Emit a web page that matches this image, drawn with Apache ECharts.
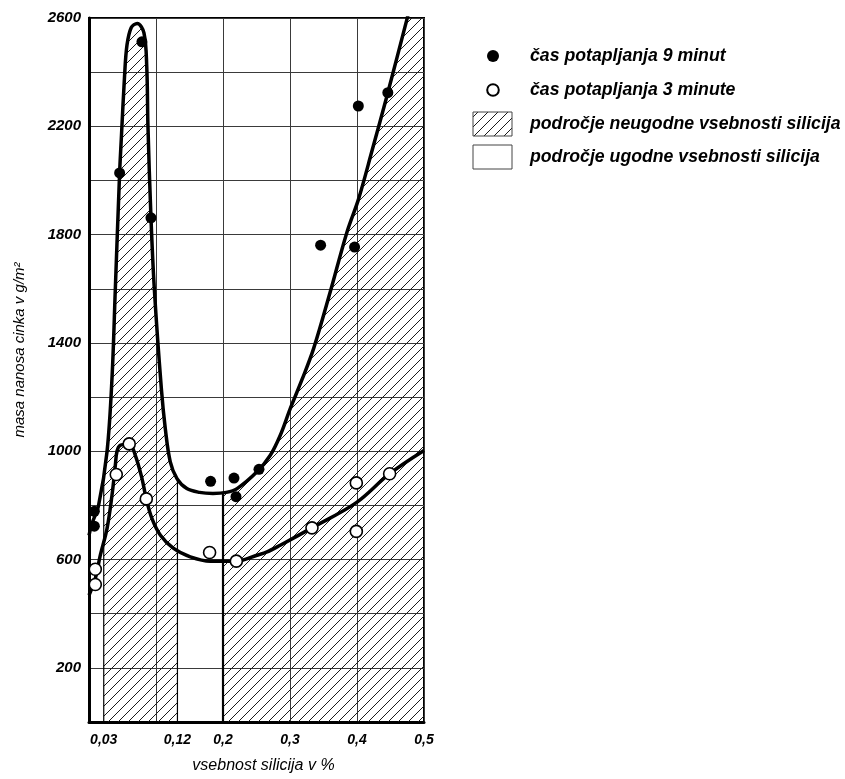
<!DOCTYPE html>
<html>
<head>
<meta charset="utf-8">
<script src="https://cdn.jsdelivr.net/npm/echarts@6/dist/echarts.min.js"></script>
<style>
  body { margin: 0; background: #fff; }
  #chart { width: 845px; height: 779px; }
</style>
</head>
<body>
<div id="chart"></div>
<script>
const FONT = "'Liberation Sans', Arial, sans-serif";

// tick labels (the 0,03 and 0,12 marks sit where the original drew them)
const xLabelPos = [0.022, 0.132, 0.2, 0.3, 0.4, 0.5];
const xLabelText = ["0,03", "0,12", "0,2", "0,3", "0,4", "0,5"];
const yLabels = [200, 600, 1000, 1400, 1800, 2200, 2600];

// measured points
const dots9 = [
  [0.008, 778], [0.008, 723], [0.0457, 2028], [0.079, 2512], [0.0925, 1862],
  [0.1815, 889], [0.2164, 901], [0.2194, 832], [0.2537, 933], [0.3457, 1761],
  [0.3964, 1754], [0.402, 2275], [0.446, 2324],
];
const dots3 = [
  [0.0094, 564], [0.0094, 508], [0.0407, 914], [0.06, 1027], [0.0855, 824],
  [0.18, 626], [0.2199, 594], [0.3328, 717], [0.399, 883], [0.399, 704],
  [0.4487, 917],
];

// fitted curves
const curve9 = [
  [0, 689], [0.0045, 733], [0.0143, 800], [0.0269, 998], [0.0343, 1268],
  [0.0393, 1600], [0.0457, 2028], [0.0482, 2153], [0.0531, 2387], [0.0567, 2500],
  [0.0631, 2565], [0.072, 2580], [0.082, 2545], [0.0862, 2420], [0.088, 2200],
  [0.0925, 1862], [0.0975, 1600], [0.108, 1231], [0.1139, 1083], [0.1213, 961],
  [0.1313, 899], [0.146, 862], [0.165, 848], [0.185, 844], [0.205, 848],
  [0.221, 862], [0.2507, 924], [0.2706, 985], [0.2855, 1059], [0.3005, 1158],
  [0.318, 1265], [0.3352, 1379], [0.36, 1588], [0.385, 1809], [0.4024, 1932],
  [0.423, 2115], [0.4448, 2313], [0.4746, 2596], [0.476, 2610],
];
const curve3 = [
  [0, 468], [0.0094, 530], [0.0169, 616], [0.0269, 714], [0.0343, 837],
  [0.0393, 948], [0.0418, 1000], [0.0467, 1022], [0.0601, 1027], [0.0691, 985],
  [0.0791, 899], [0.0855, 824], [0.094, 751], [0.1066, 690], [0.1263, 641],
  [0.1512, 610], [0.181, 594], [0.2009, 594], [0.2199, 594], [0.2507, 616],
  [0.2657, 628], [0.2855, 653], [0.3328, 717], [0.399, 810], [0.4487, 917],
  [0.5, 1003],
];

// unfavourable silicon content ranges (hatched under the 9 min curve)
const badRanges = [[0.022, 0.132], [0.2, 0.5]];

const legendNames = [
  "čas potapljanja 9 minut",
  "čas potapljanja 3 minute",
  "področje neugodne vsebnosti silicija",
  "področje ugodne vsebnosti silicija",
];

const Y_MAX = 2600;

function makeHatch() {
  const c = document.createElement("canvas");
  c.width = 10;
  c.height = 10;
  const ctx = c.getContext("2d");
  ctx.strokeStyle = "#1a1a1a";
  ctx.lineWidth = 1;
  ctx.beginPath();
  ctx.moveTo(0, 10);
  ctx.lineTo(10, 0);
  ctx.moveTo(-1, 1);
  ctx.lineTo(1, -1);
  ctx.moveTo(9, 11);
  ctx.lineTo(11, 9);
  ctx.stroke();
  return { image: c, repeat: "repeat" };
}
const hatch = makeHatch();

function curveAt(curve, x) {
  if (x <= curve[0][0]) return curve[0][1];
  for (let i = 1; i < curve.length; i++) {
    if (x <= curve[i][0]) {
      const [x0, y0] = curve[i - 1];
      const [x1, y1] = curve[i];
      return y0 + ((y1 - y0) * (x - x0)) / (x1 - x0);
    }
  }
  return curve[curve.length - 1][1];
}

function renderBadRange(params, api) {
  const x0 = api.value(0);
  const x1 = api.value(1);
  const pts = [[x0, 0], [x0, curveAt(curve9, x0)]];
  curve9.forEach((p) => {
    if (p[0] > x0 && p[0] < x1) pts.push(p);
  });
  pts.push([x1, curveAt(curve9, x1)], [x1, 0]);
  const points = pts.map((p) => api.coord([p[0], Math.min(p[1], Y_MAX)]));
  const base = api.coord([x0, 0]);
  const top = api.coord([x0, curveAt(curve9, x0)]);
  const children = [
    { type: "polygon", shape: { points }, style: { fill: hatch, stroke: null } },
    {
      type: "line",
      shape: { x1: base[0], y1: base[1], x2: top[0], y2: top[1] },
      style: { stroke: "#000", lineWidth: params.dataIndex === 1 ? 2.2 : 1.2 },
    },
  ];
  if (x1 < 0.5) {
    const b2 = api.coord([x1, 0]);
    const t2 = api.coord([x1, curveAt(curve9, x1)]);
    children.push({
      type: "line",
      shape: { x1: b2[0], y1: b2[1], x2: t2[0], y2: t2[1] },
      style: { stroke: "#000", lineWidth: 1.2 },
    });
  }
  return { type: "group", children };
}

const labelStyle = {
  fontFamily: FONT,
  fontStyle: "italic",
  fontWeight: "bold",
  color: "#000",
};

const legendX = 473;
const legendRows = [56, 90, 124, 157];

const chart = echarts.init(document.getElementById("chart"));
chart.setOption({
  animation: false,
  backgroundColor: "#fff",
  grid: {
    left: 89,
    top: 18,
    width: 335,
    height: 706,
    show: true,
    borderColor: "#000",
    borderWidth: 2,
  },
  xAxis: {
    type: "value",
    min: 0,
    max: 0.5,
    interval: 0.1,
    axisLine: { lineStyle: { color: "#000", width: 3 } },
    axisTick: { show: false },
    splitLine: { show: true, lineStyle: { color: "#3a3a3a", width: 1 } },
    axisLabel: {
      ...labelStyle,
      fontSize: 14,
      customValues: xLabelPos,
      margin: 11,
      formatter: (v) => {
        const i = xLabelPos.findIndex((p) => Math.abs(p - v) < 1e-6);
        return i >= 0 ? xLabelText[i] : "";
      },
    },
    name: "vsebnost silicija v %",
    nameLocation: "middle",
    nameGap: 36,
    nameTextStyle: {
      fontFamily: FONT,
      fontSize: 16,
      fontStyle: "italic",
      color: "#000",
      padding: [0, 0, 0, 14],
    },
  },
  yAxis: {
    type: "value",
    min: 0,
    max: Y_MAX,
    interval: 200,
    axisLine: { show: true, lineStyle: { color: "#000", width: 3 } },
    axisTick: { show: false },
    splitLine: { show: true, lineStyle: { color: "#3a3a3a", width: 1 } },
    axisLabel: {
      ...labelStyle,
      fontSize: 15,
      margin: 8,
      showMaxLabel: true,
      formatter: (v) => (yLabels.includes(v) ? String(v) : ""),
    },
    name: "masa nanosa cinka v g/m²",
    nameLocation: "middle",
    nameGap: 62,
    nameTextStyle: {
      fontFamily: FONT,
      fontSize: 15,
      fontStyle: "italic",
      color: "#000",
      padding: [0, 0, 0, 40],
    },
  },
  series: [
    {
      type: "custom",
      name: legendNames[2],
      renderItem: renderBadRange,
      data: badRanges,
      z: 1,
      silent: true,
    },
    {
      type: "line",
      name: "krivulja 9 minut",
      data: curve9,
      smooth: 0.35,
      showSymbol: false,
      lineStyle: { color: "#000", width: 3.5 },
      z: 3,
    },
    {
      type: "line",
      name: "krivulja 3 minute",
      data: curve3,
      smooth: 0.35,
      showSymbol: false,
      lineStyle: { color: "#000", width: 3.5 },
      z: 3,
    },
    {
      type: "scatter",
      name: legendNames[0],
      data: dots9,
      symbolSize: 11,
      itemStyle: { color: "#000", opacity: 1 },
      z: 5,
    },
    {
      type: "scatter",
      name: legendNames[1],
      data: dots3,
      symbolSize: 12,
      itemStyle: { color: "#fff", borderColor: "#000", borderWidth: 1.6, opacity: 1 },
      z: 5,
    },
  ],
  graphic: [
    {
      type: "circle",
      shape: { cx: legendX + 20, cy: legendRows[0], r: 6 },
      style: { fill: "#000" },
    },
    {
      type: "circle",
      shape: { cx: legendX + 20, cy: legendRows[1], r: 5.8 },
      style: { fill: "#fff", stroke: "#000", lineWidth: 2 },
    },
    {
      type: "rect",
      shape: { x: legendX, y: legendRows[2] - 12, width: 39, height: 24 },
      style: { fill: hatch, stroke: "#444", lineWidth: 1 },
    },
    {
      type: "rect",
      shape: { x: legendX, y: legendRows[3] - 12, width: 39, height: 24 },
      style: { fill: "#fff", stroke: "#444", lineWidth: 1 },
    },
    ...legendNames.map((name, i) => ({
      type: "text",
      x: 530,
      y: legendRows[i],
      style: {
        text: name,
        font: `italic bold 17.7px ${FONT}`,
        fill: "#000",
        align: "left",
        verticalAlign: "middle",
      },
    })),
  ],
});
</script>
</body>
</html>
